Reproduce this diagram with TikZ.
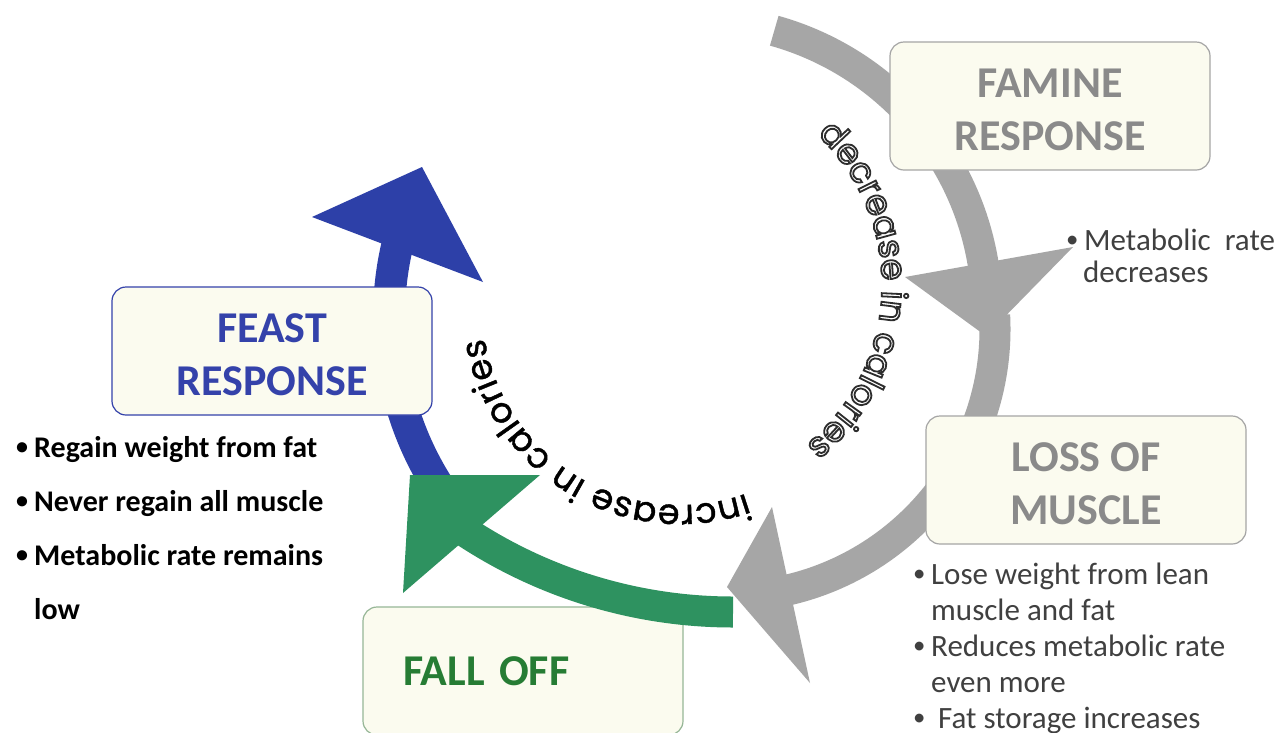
\documentclass[tikz,border=0pt]{standalone}
\usepackage{graphicx}
\usepackage{fontspec}
\setmainfont{Carlito}
\newfontfamily\arcfont{Poppins}
\newfontfamily\arcboldfont{Poppins}[FakeBold=1.2]
\usetikzlibrary{calc,decorations.text}
\definecolor{boxFill}{RGB}{251,251,239}
\definecolor{famArrow}{RGB}{166,166,166}
\definecolor{famText}{RGB}{138,138,138}
\definecolor{famLine}{RGB}{165,165,165}
\definecolor{feastArrow}{RGB}{45,64,168}
\definecolor{feastText}{RGB}{52,66,170}
\definecolor{fallArrow}{RGB}{46,146,96}
\definecolor{fallText}{RGB}{38,124,52}
\definecolor{fallLine}{RGB}{150,182,150}
\definecolor{noteGray}{RGB}{64,64,64}
\definecolor{outlineGray}{RGB}{45,45,45}
\newcommand{\bul}{\makebox[18pt][l]{\raisebox{2.5pt}{\scalebox{0.8}{\textbullet}}}}

\begin{document}
\begin{tikzpicture}[x=1pt, y=-1pt,
    box/.style={rectangle, rounded corners=14pt, line width=1.2pt, fill=boxFill,
                minimum width=320pt, minimum height=128pt, inner sep=0pt,
                text height=88pt, text depth=0pt,
                align=center, font=\fontsize{44}{53}\selectfont\bfseries},
    note/.style={anchor=base west, align=left, inner sep=0pt},
    band/.style={line width=31pt},
    arclabel/.style={decorate, decoration={text along path, text align=fit to path}}
  ]
    \useasboundingbox[fill=white] (0,0) rectangle (1283,732);

    % Fall off box, the green arc runs over it
    \node[box, draw=fallLine, text=fallText, text width=240pt, inner xsep=40pt,
          text height=28pt, align=left] (fallOff) at (523,671) {FALL OFF};

    % Arc centres
    \coordinate (famC)    at (696,311);
    \coordinate (muscleC) at (727,329);
    \coordinate (fallC)   at (733,126);
    \coordinate (feastC)  at (704,317);

    % Gray arcs
    \draw[band, famArrow] ($(famC)+(-74.4:291)$) arc[start angle=-74.4, end angle=-8, radius=291];
    \fill[famArrow] (905,277) -- (1073,247) -- (986,336) -- cycle;
    \draw[band, famArrow] ($(muscleC)+(-3:268)$) arc[start angle=-3, end angle=78, radius=268];
    \fill[famArrow] (772,507) -- (810,683) -- (727,587) -- cycle;

    % Blue arc
    \draw[band, feastArrow, line width=32pt] ($(feastC)+(147:315)$) arc[start angle=147, end angle=194, radius=315];
    \fill[feastArrow] (312,217) -- (483,282) -- (422,167) -- cycle;

    % Green arc
    \draw[band, fallArrow] ($(fallC)+(90:486)$) arc[start angle=90, end angle=124, radius=486];
    \fill[fallArrow] (540,475) -- (403,593) -- (410,475) -- cycle;

    % Boxes
    \node[box, draw=famLine, text=famText] (famine) at (1050,106) {FAMINE\\RESPONSE};
    \node[box, draw=famLine, text=famText] (muscle) at (1086,480) {LOSS OF\\MUSCLE};
    \node[box, draw=feastText, text=feastText] (feast) at (272,351) {FEAST\\RESPONSE};

    % Notes (anchored at the baseline of their last line)
    \node[note, text=noteGray, font=\fontsize{31}{32}\selectfont] (famNote) at (1066,282)
      {\bul Metabolic\ \ rate\\\hspace*{17pt}decreases};
    \node[note, text=noteGray, font=\fontsize{31}{36}\selectfont] (muscleNote) at (913,728)
      {\bul Lose weight from lean\\\hspace*{18pt}muscle and fat\\
       \bul Reduces metabolic rate\\\hspace*{18pt}even more\\
       \bul\hspace{7pt}Fat storage increases};
    \node[note, font=\fontsize{30}{54}\selectfont\bfseries] (feastNote) at (16,619)
      {\bul Regain weight from fat\\\bul Never regain all muscle\\
       \bul Metabolic rate remains\\\hspace*{18pt}low};

    % Arc labels
    \coordinate (decC) at (675,285);
    \coordinate (incC) at (680,307);
    \begin{scope}
      \special{pdf:literal direct 1 Tr 1.8 w}
      \path[decorate, decoration={text along path, text align=center,
            text={|\arcfont\fontsize{35}{35}\selectfont\color{outlineGray}|decrease in calories}}]
        ($(decC)+(-50:207)$) arc[start angle=-50, end angle=54, radius=207];
      \special{pdf:literal direct 0 Tr}
    \end{scope}
    \path[arclabel, decoration={text={|\arcboldfont\fontsize{35}{35}\selectfont|increase in calories}}]
      ($(incC)+(70.5:198)$) arc[start angle=70.5, end angle=171, radius=198];
\end{tikzpicture}
\end{document}
